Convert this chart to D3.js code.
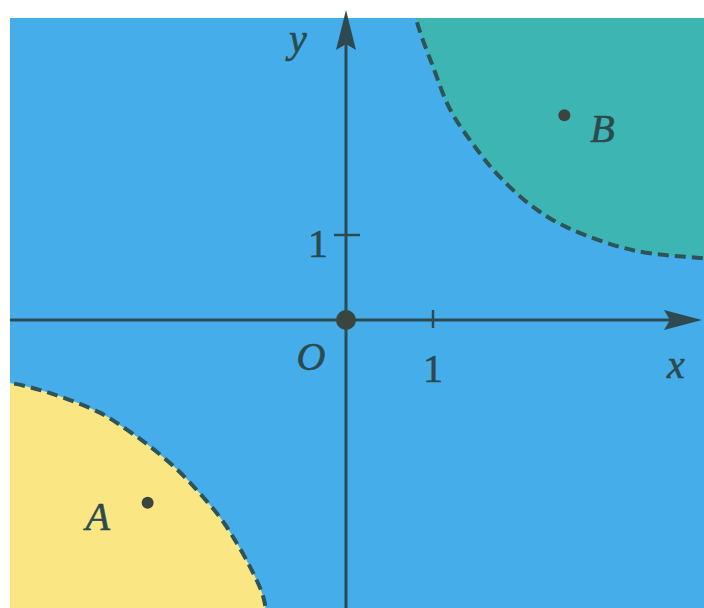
<!DOCTYPE html>
<html>
<head>
<meta charset="utf-8">
<script src="https://cdn.jsdelivr.net/npm/d3@7"></script>
<style>
  html, body { margin: 0; padding: 0; background: #fff; }
  svg text { font-family: "Liberation Serif", "DejaVu Serif", serif; font-style: italic; fill: #2c4a4e; stroke: #2c4a4e; stroke-width: 0.6; }
</style>
</head>
<body>
<script>
// named points
const pointNames = ["A", "B"];
const pointX = [-2.28, 2.51];
const pointY = [-2.15, 2.41];
const tickValues = [1];

// dashed boundaries (x, y in axis units)
const lowerX = [-4.2, -3.86, -3.40, -2.83, -2.52, -2.25, -1.94, -1.68, -1.45, -1.30, -1.10, -0.95, -0.90];
const lowerY = [-0.70, -0.74, -0.86, -1.09, -1.29, -1.49, -1.76, -2.04, -2.32, -2.55, -2.91, -3.26, -3.60];
const upperX = [0.78, 0.82, 1.00, 1.20, 1.51, 1.77, 2.15, 2.54, 3.30, 4.07, 4.20];
const upperY = [3.70, 3.49, 2.98, 2.47, 2.00, 1.68, 1.33, 1.09, 0.82, 0.73, 0.72];

const W = 704, H = 608;
const padLeft = 10, padTop = 18;

// 1 unit = 87px on x, 85px on y, origin at (346,320)
var x = d3.scaleLinear().domain([0, 1]).range([346, 433]);
var y = d3.scaleLinear().domain([0, 1]).range([320, 235]);

var svg = d3.select("body").append("svg")
  .attr("width", W)
  .attr("height", H);

svg.append("clipPath").attr("id", "plot")
  .append("rect").attr("x", padLeft).attr("y", padTop)
  .attr("width", W - padLeft).attr("height", H - padTop);

var g = svg.append("g").attr("clip-path", "url(#plot)");

g.append("rect")
  .attr("x", padLeft).attr("y", padTop)
  .attr("width", W - padLeft).attr("height", H - padTop)
  .attr("fill", "#45aeea");

var line = d3.line()
  .x(d => x(d[0])).y(d => y(d[1]))
  .curve(d3.curveCatmullRom.alpha(0.5));

var lower = lowerX.map((v, i) => [v, lowerY[i]]);
var upper = upperX.map((v, i) => [v, upperY[i]]);

// yellow region (bottom-left) and teal region (top-right)
g.append("path")
  .attr("d", line(lower) + `L${x(-5)},${y(-5)}Z`)
  .attr("fill", "#fae784");
g.append("path")
  .attr("d", line(upper) + `L${x(5)},${y(5)}Z`)
  .attr("fill", "#3db5b3");

[lower, upper].forEach(function(pts) {
  g.append("path")
    .attr("d", line(pts))
    .attr("fill", "none")
    .attr("stroke", "#2f5457")
    .attr("stroke-width", 4)
    .attr("stroke-dasharray", "11,6");
});

var axisColor = "#2d4a50";

// axes
g.append("line")
  .attr("x1", padLeft).attr("x2", W - 20)
  .attr("y1", y(0)).attr("y2", y(0))
  .attr("stroke", axisColor).attr("stroke-width", 3);
svg.append("line")
  .attr("x1", x(0)).attr("x2", x(0))
  .attr("y1", H).attr("y2", 40)
  .attr("stroke", axisColor).attr("stroke-width", 3);

// arrow heads
svg.append("path")
  .attr("d", `M${W - 2},${y(0)} L${W - 40},${y(0) - 10} L${W - 34},${y(0)} L${W - 40},${y(0) + 10} Z`)
  .attr("fill", axisColor);
svg.append("path")
  .attr("d", `M${x(0)},10 L${x(0) - 10},50 L${x(0)},44 L${x(0) + 10},50 Z`)
  .attr("fill", axisColor);

// ticks
tickValues.forEach(function(t) {
  svg.append("line")
    .attr("x1", x(t)).attr("x2", x(t))
    .attr("y1", y(0) - 10).attr("y2", y(0) + 8)
    .attr("stroke", axisColor).attr("stroke-width", 2.5);
  svg.append("text")
    .attr("x", x(t)).attr("y", y(0) + 62)
    .attr("text-anchor", "middle")
    .style("font-style", "normal")
    .attr("font-size", 40)
    .text(t);
  svg.append("line")
    .attr("x1", x(0) - 12).attr("x2", x(0) + 14)
    .attr("y1", y(t)).attr("y2", y(t))
    .attr("stroke", axisColor).attr("stroke-width", 2.5);
  svg.append("text")
    .attr("x", x(0) - 28).attr("y", y(t) + 22)
    .attr("text-anchor", "middle")
    .style("font-style", "normal")
    .attr("font-size", 40)
    .text(t);
});

// origin
svg.append("circle").attr("cx", x(0)).attr("cy", y(0)).attr("r", 10).attr("fill", "#3a4540");
svg.append("text").attr("x", 311).attr("y", 370).attr("text-anchor", "middle")
  .attr("font-size", 40).text("O");
svg.append("text").attr("x", 298).attr("y", 52).attr("text-anchor", "middle")
  .attr("font-size", 40).text("y");
svg.append("text").attr("x", 676).attr("y", 378).attr("text-anchor", "middle")
  .attr("font-size", 40).text("x");

// points
pointNames.forEach(function(name, i) {
  svg.append("circle")
    .attr("cx", x(pointX[i])).attr("cy", y(pointY[i]))
    .attr("r", 6).attr("fill", "#3a4540");
  svg.append("text")
    .attr("x", name === "A" ? x(pointX[i]) - 50 : x(pointX[i]) + 38)
    .attr("y", y(pointY[i]) + 27)
    .attr("text-anchor", "middle")
    .attr("font-size", 40)
    .text(name);
});
</script>
</body>
</html>
